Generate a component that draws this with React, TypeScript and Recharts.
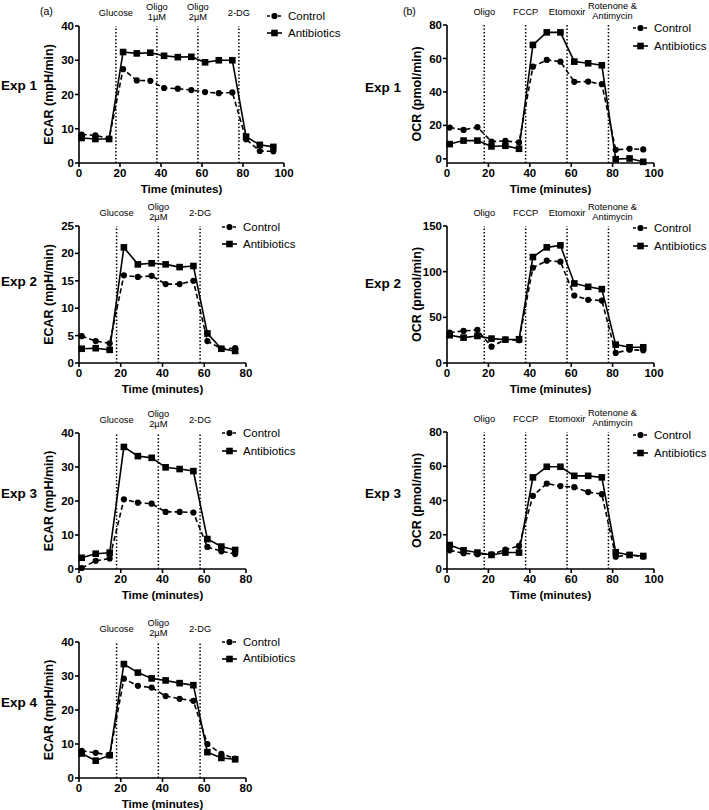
import React from 'react';
import { LineChart, Line, XAxis, YAxis, ReferenceLine, Legend } from 'recharts';

const FONT = '"Liberation Sans", Arial, Helvetica, sans-serif';

// measurement times (minutes)
const times15 = [1.3, 8, 14.7, 21.5, 28.2, 34.8, 41.5, 48.2, 54.8, 61.5, 68.2, 74.8, 81.5, 88.2, 94.8];
const times12 = times15.slice(0, 12);

// (a) ECAR
const ecar1Control = [8.3, 8.1, 7.1, 27.4, 24.1, 24.0, 21.9, 21.7, 21.3, 20.7, 20.4, 20.6, 6.9, 3.5, 3.4];
const ecar1Abx = [7.3, 7.0, 7.0, 32.4, 32.0, 32.2, 31.3, 30.9, 31.0, 29.4, 30.0, 30.0, 7.7, 5.3, 4.7];
const ecar2Control = [4.9, 4.0, 3.6, 16.0, 15.7, 15.9, 14.4, 14.4, 15.0, 4.0, 2.6, 2.7];
const ecar2Abx = [2.6, 2.7, 2.4, 21.1, 18.0, 18.2, 18.0, 17.5, 17.7, 5.4, 2.6, 2.2];
const ecar3Control = [0.3, 2.4, 3.1, 20.5, 19.5, 19.2, 16.8, 16.8, 16.6, 6.5, 5.2, 4.4];
const ecar3Abx = [3.3, 4.5, 4.8, 35.9, 33.2, 32.7, 29.9, 29.4, 28.8, 8.8, 6.6, 5.6];
const ecar4Control = [8.0, 7.4, 6.7, 29.2, 27.1, 26.6, 24.1, 23.3, 22.7, 10.0, 7.1, 5.7];
const ecar4Abx = [7.2, 5.1, 6.7, 33.5, 31.0, 29.3, 28.7, 27.9, 27.3, 7.6, 5.9, 5.5];

// (b) OCR
const ocr1Control = [18.7, 17.3, 18.9, 10.3, 10.7, 9.8, 55.1, 59.1, 58.1, 46.0, 46.2, 44.6, 5.4, 6.0, 5.6];
const ocr1Abx = [8.8, 10.9, 10.9, 7.4, 7.8, 6.0, 68.1, 75.6, 75.6, 58.1, 57.1, 55.9, -0.2, 0.2, -1.8];
const ocr2Control = [33.3, 35.1, 36.2, 17.9, 25.6, 24.9, 104.3, 112, 110.9, 73.9, 69.2, 68.4, 11, 14.6, 13.9];
const ocr2Abx = [30.4, 27.8, 29.6, 26.7, 25.6, 26.0, 116, 126.6, 128.8, 87.1, 83.4, 80.9, 20.1, 17.2, 17.2];
const ocr3Control = [10.9, 9.2, 8.6, 8.6, 11.3, 13.5, 42.7, 49.9, 48.4, 47.8, 44.9, 43.7, 7.2, 8.2, 7.2];
const ocr3Abx = [14.0, 10.9, 9.6, 8.2, 9.6, 9.6, 53.5, 59.7, 59.7, 54.4, 54.4, 53.5, 9.8, 8.2, 7.6];

const ticks100 = [0, 20, 40, 60, 80, 100];
const ticks80 = [0, 20, 40, 60, 80];

type Inj = { x: number; lines: string[]; dx?: number };

const injA1: Inj[] = [
  { x: 18, lines: ['Glucose'] },
  { x: 38, lines: ['Oligo', '1µM'] },
  { x: 58, lines: ['Oligo', '2µM'] },
  { x: 78, lines: ['2-DG'] },
];
const injA: Inj[] = [
  { x: 18, lines: ['Glucose'] },
  { x: 38, lines: ['Oligo', '2µM'] },
  { x: 58, lines: ['2-DG'] },
];
const injB: Inj[] = [
  { x: 18, lines: ['Oligo'] },
  { x: 38, lines: ['FCCP'] },
  { x: 58, lines: ['Etomoxir'] },
  { x: 78, lines: ['Rotenone &', 'Antimycin'], dx: 4 },
];

const InjLabel = ({ viewBox, lines, dx = 0 }: any) => {
  if (!viewBox) return null;
  const x = viewBox.x + dx;
  const top = viewBox.y;
  const ys = lines.length === 1 ? [top - 10] : [top - 16.5, top - 6.3];
  return (
    <text textAnchor="middle" fontSize={9.3} fill="#000" fontFamily={FONT}>
      {lines.map((l: string, i: number) => (
        <tspan key={i} x={x} y={ys[i]}>{l}</tspan>
      ))}
    </text>
  );
};

const CircleDot = (p: any) => <circle key={`c-${p.index}`} cx={p.cx} cy={p.cy} r={3.1} fill="#000" />;
const SquareDot = (p: any) => (
  <rect key={`s-${p.index}`} x={p.cx - 3.3} y={p.cy - 3.3} width={6.6} height={6.6} fill="#000" />
);

const LegendBox = ({ gap }: { gap: number }) => (
  <div style={{ fontFamily: FONT, fontSize: 11.5, color: '#000', lineHeight: `${gap}px`, whiteSpace: 'nowrap' }}>
    <div style={{ display: 'flex', alignItems: 'center', height: gap }}>
      <svg width={21} height={10} style={{ flex: 'none' }}>
        <line x1={0} x2={15} y1={5} y2={5} stroke="#000" strokeWidth={1.6} strokeDasharray="3 2.5" />
        <circle cx={7.5} cy={5} r={3.1} fill="#000" />
      </svg>
      Control
    </div>
    <div style={{ display: 'flex', alignItems: 'center', height: gap }}>
      <svg width={21} height={10} style={{ flex: 'none' }}>
        <line x1={0} x2={15} y1={5} y2={5} stroke="#000" strokeWidth={1.6} />
        <rect x={4.2} y={1.7} width={6.6} height={6.6} fill="#000" />
      </svg>
      Antibiotics
    </div>
  </div>
);

type PanelProps = {
  boxLeft: number;
  boxWidth: number;
  plotLeft: number;
  plotRight: number;
  plotTop: number;
  plotH: number;
  xMax: number;
  xTicks: number[];
  yDomain: [number, number];
  yTicks: number[];
  yLabel: string;
  times: number[];
  control: number[];
  antibiotics: number[];
  injections: Inj[];
  legendX: number;
  legendY: number;
  legendGap: number;
};

const MT = 30;
const MB = 10;
const XH = 30;
const YW = 40;

const axisStyle = { stroke: '#000', strokeWidth: 1.6 };
const tickStyle = { fontSize: 11.5, fontWeight: 700, fill: '#000' };

const Panel = (p: PanelProps) => {
  const data = p.times.map((t, i) => ({ t, control: p.control[i], antibiotics: p.antibiotics[i] }));
  const height = MT + p.plotH + XH + MB;
  const boxTop = p.plotTop - MT;
  return (
    <div style={{ position: 'absolute', left: p.boxLeft, top: boxTop }}>
      <LineChart
        width={p.boxWidth}
        height={height}
        data={data}
        margin={{ top: MT, right: p.boxLeft + p.boxWidth - p.plotRight, bottom: MB, left: p.plotLeft - p.boxLeft - YW }}
      >
        <XAxis
          type="number"
          dataKey="t"
          domain={[0, p.xMax]}
          ticks={p.xTicks}
          height={XH}
          axisLine={axisStyle}
          tickLine={axisStyle}
          tickSize={4}
          tickMargin={2}
          tick={tickStyle}
          label={{
            value: 'Time (minutes)',
            position: 'insideBottom',
            offset: 0,
            style: { fontSize: 11.5, fontWeight: 700, fill: '#000' },
          }}
        />
        <YAxis
          type="number"
          domain={p.yDomain}
          ticks={p.yTicks}
          width={YW}
          axisLine={axisStyle}
          tickLine={axisStyle}
          tickSize={4}
          tickMargin={1}
          tick={tickStyle}
          label={{
            value: p.yLabel,
            angle: -90,
            position: 'insideLeft',
            offset: 10,
            style: { textAnchor: 'middle', fontSize: 12.5, fontWeight: 700, fill: '#000' },
          }}
        />
        {p.injections.map((inj) => (
          <ReferenceLine
            key={inj.x}
            x={inj.x}
            stroke="#000"
            strokeWidth={1.5}
            strokeDasharray="1.5 2"
            label={<InjLabel lines={inj.lines} dx={inj.dx} />}
          />
        ))}
        <Line
          type="linear"
          dataKey="control"
          name="Control"
          stroke="#000"
          strokeWidth={1.6}
          strokeDasharray="5 3"
          dot={CircleDot}
          isAnimationActive={false}
        />
        <Line
          type="linear"
          dataKey="antibiotics"
          name="Antibiotics"
          stroke="#000"
          strokeWidth={1.6}
          dot={SquareDot}
          isAnimationActive={false}
        />
        <Legend
          layout="vertical"
          align="center"
          verticalAlign="middle"
          content={<LegendBox gap={p.legendGap} />}
          wrapperStyle={{
            left: p.legendX - p.boxLeft,
            top: p.legendY - p.legendGap / 2 - boxTop,
            width: 'auto',
            height: 'auto',
          }}
        />
      </LineChart>
    </div>
  );
};

const Tag = ({ x, y, text, size, bold }: { x: number; y: number; text: string; size: number; bold?: boolean }) => (
  <div
    style={{
      position: 'absolute',
      left: x,
      top: y - 10,
      height: 20,
      lineHeight: '20px',
      fontFamily: FONT,
      fontSize: size,
      fontWeight: bold ? 700 : 400,
      color: '#000',
      whiteSpace: 'nowrap',
    }}
  >
    {text}
  </div>
);

const A = { boxLeft: 0, boxWidth: 340, plotLeft: 79, yLabel: 'ECAR (mpH/min)', legendX: 267 };
const B = { boxLeft: 340, boxWidth: 369, plotLeft: 447, plotRight: 654, xMax: 100, xTicks: ticks100, yLabel: 'OCR (pmol/min)', times: times15, injections: injB, legendX: 633, legendGap: 18 };

export default function App() {
  return (
    <div style={{ position: 'absolute', left: 0, top: 0, width: 709, height: 810, background: '#fff', fontFamily: FONT }}>
      <Tag x={40} y={11} text="(a)" size={10.5} />
      <Tag x={403} y={11} text="(b)" size={10.5} />
      <Tag x={1} y={86} text="Exp 1" size={13.5} bold />
      <Tag x={365} y={88} text="Exp 1" size={13.5} bold />
      <Tag x={1} y={282} text="Exp 2" size={13.5} bold />
      <Tag x={365} y={284} text="Exp 2" size={13.5} bold />
      <Tag x={1} y={494} text="Exp 3" size={13.5} bold />
      <Tag x={365} y={494} text="Exp 3" size={13.5} bold />
      <Tag x={1} y={703} text="Exp 4" size={13.5} bold />

      <Panel {...A} plotRight={284} plotTop={26} plotH={137} xMax={100} xTicks={ticks100}
        yDomain={[0, 40]} yTicks={[0, 10, 20, 30, 40]} times={times15}
        control={ecar1Control} antibiotics={ecar1Abx} injections={injA1} legendY={16} legendGap={17} />
      <Panel {...B} plotTop={25} plotH={138} yDomain={[-2.5, 80]} yTicks={[0, 20, 40, 60, 80]}
        control={ocr1Control} antibiotics={ocr1Abx} legendY={28} />

      <Panel {...A} plotRight={246} plotTop={226} plotH={137} xMax={80} xTicks={ticks80}
        yDomain={[0, 25]} yTicks={[0, 5, 10, 15, 20, 25]} times={times12}
        control={ecar2Control} antibiotics={ecar2Abx} injections={injA} legendX={222} legendY={227} legendGap={17} />
      <Panel {...B} plotTop={226} plotH={137} yDomain={[0, 150]} yTicks={[0, 50, 100, 150]}
        control={ocr2Control} antibiotics={ocr2Abx} legendY={228} />

      <Panel {...A} plotRight={246} plotTop={433} plotH={136} xMax={80} xTicks={ticks80}
        yDomain={[0, 40]} yTicks={[0, 10, 20, 30, 40]} times={times12}
        control={ecar3Control} antibiotics={ecar3Abx} injections={injA} legendX={222} legendY={433} legendGap={18} />
      <Panel {...B} plotTop={432} plotH={137} yDomain={[0, 80]} yTicks={[0, 20, 40, 60, 80]}
        control={ocr3Control} antibiotics={ocr3Abx} legendY={435} />

      <Panel {...A} plotRight={246} plotTop={642} plotH={136} xMax={80} xTicks={ticks80}
        yDomain={[0, 40]} yTicks={[0, 10, 20, 30, 40]} times={times12}
        control={ecar4Control} antibiotics={ecar4Abx} injections={injA} legendX={222} legendY={642} legendGap={16.5} />
    </div>
  );
}
